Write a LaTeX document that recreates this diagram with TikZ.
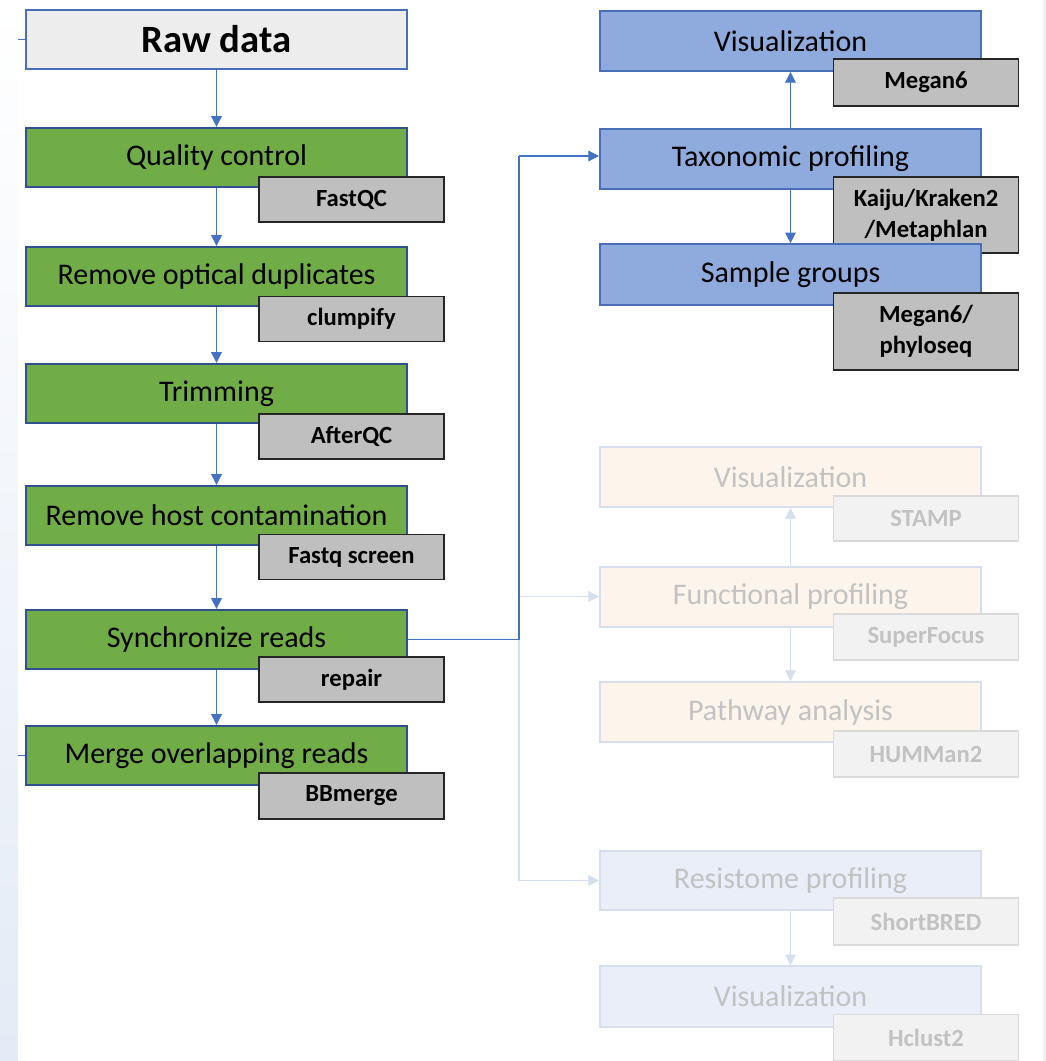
\documentclass[tikz,border=0pt]{standalone}
\usepackage{fontspec}
\setmainfont{Carlito}
\usetikzlibrary{arrows.meta}
\definecolor{bordblue}{HTML}{2F528F}
\definecolor{blueborder}{HTML}{4A6FB8}
\definecolor{arrowblue}{HTML}{4472C4}
\definecolor{greenfill}{HTML}{70AD47}
\definecolor{bluefill}{HTML}{8FAADC}
\definecolor{rawfill}{HTML}{EDEDED}
\definecolor{toolfill}{HTML}{BFBFBF}
\definecolor{toolbord}{HTML}{262626}
\definecolor{peachfill}{HTML}{FDF4EC}
\definecolor{fadeblue}{HTML}{E9EEF8}
\definecolor{fadebord}{HTML}{D7DFEE}
\definecolor{fadetoolfill}{HTML}{F2F2F2}
\definecolor{fadetoolbord}{HTML}{DADADA}
\definecolor{fadetext}{HTML}{C2C2C2}
\definecolor{fadearrow}{HTML}{D5DFF0}
\definecolor{stripblue}{HTML}{E4EBF6}
\tikzset{
  mainbox/.style={draw, line width=1.5pt, minimum width=285.75pt, minimum height=44.5pt, inner sep=0pt, anchor=center, font=\fontsize{22.5pt}{26pt}\selectfont},
  greenbox/.style={mainbox, fill=greenfill, draw=bordblue},
  bluebox/.style={mainbox, fill=bluefill, draw=blueborder},
  peachbox/.style={mainbox, fill=peachfill, draw=fadebord, text=fadetext},
  fbluebox/.style={mainbox, fill=fadeblue, draw=fadebord, text=fadetext},
  toolbox/.style={draw=toolbord, fill=toolfill, line width=1.2pt, minimum width=139pt, inner sep=0pt, anchor=center, align=center, font=\fontsize{18.5pt}{23pt}\selectfont\bfseries},
  ftoolbox/.style={toolbox, draw=fadetoolbord, fill=fadetoolfill, text=fadetext},
  arr/.style={draw=arrowblue, line width=0.9pt, -{Triangle[width=8pt,length=8pt]}},
  conn/.style={draw=arrowblue, line width=0.9pt},
  farr/.style={draw=fadearrow, line width=0.9pt, -{Triangle[width=8pt,length=8pt]}},
  fconn/.style={draw=fadearrow, line width=0.9pt},
}
\begin{document}
\begin{tikzpicture}[x=0.75pt,y=-0.75pt]
\useasboundingbox (0,0) rectangle (1046,1061);
\fill[white] (0,0) rectangle (1046,1061);
% side strips
\shade[top color=white, bottom color=stripblue] (0,0) rectangle (18,1061);
\fill[stripblue!70] (1043,0) rectangle (1046,1061);

% left column
\node[mainbox, fill=rawfill, draw=blueborder, font=\fontsize{29pt}{33pt}\selectfont\bfseries] (raw) at (216.5,39.5) {Raw data};
\node[greenbox] (qc) at (216.5,157.5) {Quality control};
\node[toolbox, minimum height=33.75pt] (fastqc) at (351.5,199.5) {FastQC};
\node[greenbox] (rod) at (216.5,276.5) {Remove optical duplicates};
\node[toolbox, minimum height=33.75pt] (clump) at (351.5,319) {clumpify};
\node[greenbox] (trim) at (216.5,393.5) {Trimming};
\node[toolbox, minimum height=33.75pt] (afterqc) at (351.5,436.5) {AfterQC};
\node[greenbox] (host) at (216.5,515.5) {Remove host contamination};
\node[toolbox, minimum height=33.75pt] (fqs) at (351.5,557) {Fastq screen};
\node[greenbox] (sync) at (216.5,639.5) {Synchronize reads};
\node[toolbox, minimum height=33.75pt] (repair) at (351.5,679.5) {repair};
\node[greenbox] (merge) at (216.5,755.5) {Merge overlapping reads};
\node[toolbox, minimum height=34.5pt] (bbm) at (351.5,796) {BBmerge};

\draw[arr] (raw.south) -- (qc.north);
\draw[arr] (qc.south) -- (rod.north);
\draw[arr] (rod.south) -- (trim.north);
\draw[arr] (trim.south) -- (host.north);
\draw[arr] (host.south) -- (sync.north);
\draw[arr] (sync.south) -- (merge.north);

\coordinate (s1) at (18,39.5);
\coordinate (s2) at (18,755.5);
\draw[conn] (s1) -- (raw.west);
\draw[conn] (s2) -- (merge.west);

% right column: taxonomic
\node[bluebox, minimum height=45pt] (vis1) at (790.5,41) {Visualization};
\node[toolbox, minimum height=35pt] (megan) at (926,82.5) {Megan6};
\node[bluebox, minimum height=45pt] (tax) at (790.5,159) {Taxonomic profiling};
\node[toolbox, minimum height=57pt] (kaiju) at (926,215) {Kaiju/Kraken2\\/Metaphlan};
\node[bluebox, minimum height=45.5pt] (samp) at (790.5,274.5) {Sample groups};
\node[toolbox, minimum height=57.5pt] (phylo) at (926,331.5) {Megan6/\\phyloseq};

\draw[arr] (tax.north) -- (vis1.south);
\draw[arr] (tax.south) -- (samp.north);

% right column: functional (faded)
\node[peachbox, minimum height=45pt] (vis2) at (790.5,477) {Visualization};
\node[ftoolbox, minimum height=33.75pt] (stamp) at (926,518.5) {STAMP};
\node[peachbox, minimum height=45pt] (func) at (790.5,596.5) {Functional profiling};
\node[ftoolbox, minimum height=34.5pt] (sfocus) at (926,637) {SuperFocus};
\node[peachbox, minimum height=45pt] (path) at (790.5,712) {Pathway analysis};
\node[ftoolbox, minimum height=34.5pt] (humman) at (926,754) {HUMMan2};

\draw[farr] (func.north) -- (vis2.south);
\draw[farr] (func.south) -- (path.north);

% right column: resistome (faded)
\node[fbluebox, minimum height=44.5pt] (res) at (790.5,880.5) {Resistome profiling};
\node[ftoolbox, minimum height=35pt] (sbred) at (926,921.5) {ShortBRED};
\node[fbluebox, minimum height=45.5pt] (vis3) at (790.5,996.5) {Visualization};
\node[ftoolbox, minimum height=34.5pt] (hclust) at (926,1037.5) {Hclust2};

\draw[farr] (res.south) -- (vis3.north);

% branch connector
\coordinate (jn) at (519,639.5);
\coordinate (jt) at (519,156);
\coordinate (jf) at (519,596.5);
\coordinate (jr) at (519,880.5);
\draw[farr] (jf) -- (func.west);
\draw[fconn] (jn) -- (jr);
\draw[farr] (jr) -- (res.west);
\draw[conn] (sync.east) -- (jn);
\draw[conn] (jn) -- (jt);
\draw[arr] (jt) -- (tax.west |- jt);
\end{tikzpicture}
\end{document}
